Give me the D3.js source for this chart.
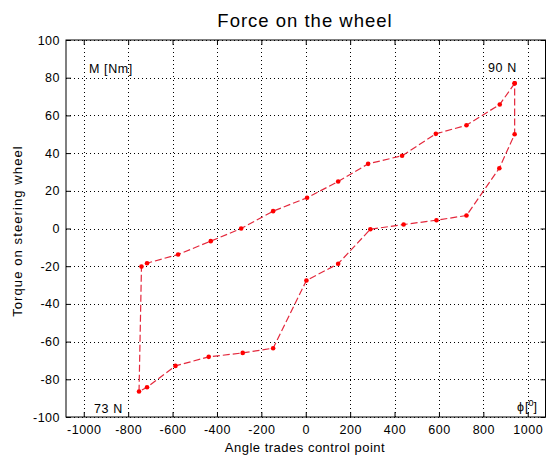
<!DOCTYPE html>
<html>
<head>
<meta charset="utf-8">
<script src="https://cdn.jsdelivr.net/npm/d3@7"></script>
<style>
  body { margin: 0; background: #fff; }
  text { font-family: "Liberation Sans", Arial, sans-serif; fill: #000; }
</style>
</head>
<body>
<svg id="chart" width="547" height="456"></svg>
<script>
// Hysteresis loop of steering torque vs. angle (closed path)
const angle = [941, 874, 724, 586, 434, 281, 146, 6, -147, -291, -428, -575, -715, -740,
               -751, -715, -587, -437, -284, -147, 3, 146, 291, 441, 589, 724, 872, 941, 941];
const torque = [77, 65.8, 54.8, 50.2, 38.6, 34.3, 24.9, 16.3, 9.2, 0, -6.7, -13.8, -18.4, -20.2,
                -86.5, -84.2, -72.9, -68.1, -66, -63.5, -27.6, -18.7, -0.4, 2.1, 4.4, 6.9, 32, 50, 77];
const xTicks = [-1000, -800, -600, -400, -200, 0, 200, 400, 600, 800, 1000];
const yTicks = [-100, -80, -60, -40, -20, 0, 20, 40, 60, 80, 100];

const svg = d3.select("#chart");
const pLeft = 66, pRight = 545.5, pTop = 40, pBottom = 417;

const x = d3.scaleLinear().domain([-1080, 1080]).range([pLeft, pRight]);
const y = d3.scaleLinear().domain([-100, 100]).range([pBottom, pTop]);
const plain = d => String(d);

// dotted grid
const grid = svg.append("g");
grid.selectAll("line.gx").data(xTicks).join("line")
  .attr("x1", d => Math.round(x(d)) + 0.5).attr("x2", d => Math.round(x(d)) + 0.5)
  .attr("y1", pTop).attr("y2", pBottom)
  .attr("stroke", "#000").attr("stroke-width", 1).attr("stroke-dasharray", "1,3");
grid.selectAll("line.gy").data(yTicks).join("line")
  .attr("y1", d => Math.round(y(d)) + 0.5).attr("y2", d => Math.round(y(d)) + 0.5)
  .attr("x1", pLeft).attr("x2", pRight)
  .attr("stroke", "#000").attr("stroke-width", 1).attr("stroke-dasharray", "1,3");

// axes with inward ticks on all four sides
const tl = 5;
const axB = svg.append("g").attr("transform", `translate(0,${pBottom})`)
  .call(d3.axisBottom(x).tickValues(xTicks).tickFormat(plain).tickSizeInner(-tl).tickSizeOuter(0).tickPadding(8));
const axT = svg.append("g").attr("transform", `translate(0,${pTop})`)
  .call(d3.axisTop(x).tickValues(xTicks).tickSizeInner(-tl).tickSizeOuter(0).tickFormat(""));
const axL = svg.append("g").attr("transform", `translate(${pLeft},0)`)
  .call(d3.axisLeft(y).tickValues(yTicks).tickFormat(plain).tickSizeInner(-tl).tickSizeOuter(0).tickPadding(6));
const axR = svg.append("g").attr("transform", `translate(${pRight},0)`)
  .call(d3.axisRight(y).tickValues(yTicks).tickSizeInner(-tl).tickSizeOuter(0).tickFormat(""));
[axB, axT, axL, axR].forEach(a => {
  a.select(".domain").remove();
  a.selectAll("line").attr("stroke", "#000");
  a.selectAll("text").attr("font-size", 12.5).attr("letter-spacing", 0.5)
    .attr("font-family", "Liberation Sans, Arial, sans-serif").attr("fill", "#000");
});

// frame
svg.append("rect").attr("x", pLeft).attr("y", pTop)
  .attr("width", pRight - pLeft).attr("height", pBottom - pTop)
  .attr("fill", "none").attr("stroke", "#000").attr("stroke-width", 1);

// loop
const pts = angle.map((a, i) => [a, torque[i]]);
const line = d3.line().x(d => x(d[0])).y(d => y(d[1]));
svg.append("path").datum(pts).attr("d", line)
  .attr("fill", "none").attr("stroke", "#e4283c").attr("stroke-width", 1.2)
  .attr("stroke-dasharray", "7,3");
svg.selectAll("circle.pt").data(pts).join("circle")
  .attr("cx", d => x(d[0])).attr("cy", d => y(d[1])).attr("r", 2.3)
  .attr("fill", "#ff0000");

// texts
svg.append("text").attr("x", 305).attr("y", 27).attr("text-anchor", "middle")
  .attr("font-size", 18.5).attr("letter-spacing", 1).text("Force on the wheel");
svg.append("text").attr("x", 305).attr("y", 452).attr("text-anchor", "middle")
  .attr("font-size", 13).attr("letter-spacing", 0.5).text("Angle trades control point");
svg.append("text").attr("transform", `translate(22,231) rotate(-90)`)
  .attr("text-anchor", "middle").attr("font-size", 13).attr("letter-spacing", 1.1)
  .text("Torque on steering wheel");
svg.append("text").attr("x", 89).attr("y", 73).attr("font-size", 12.5).attr("letter-spacing", 0.6).text("M [Nm]");
svg.append("text").attr("x", 488).attr("y", 72).attr("font-size", 12.5).attr("letter-spacing", 0.6).text("90 N");
svg.append("text").attr("x", 94).attr("y", 412.5).attr("font-size", 12.5).attr("letter-spacing", 0.6).text("73 N");
const phi = svg.append("text").attr("x", 517).attr("y", 411).attr("font-size", 12.5);
phi.append("tspan").text("ϕ");
phi.append("tspan").attr("dx", 1).text("[");
phi.append("tspan").attr("dy", -5).attr("font-size", 9).text("0");
phi.append("tspan").attr("dy", 5).text("]");
</script>
</body>
</html>
